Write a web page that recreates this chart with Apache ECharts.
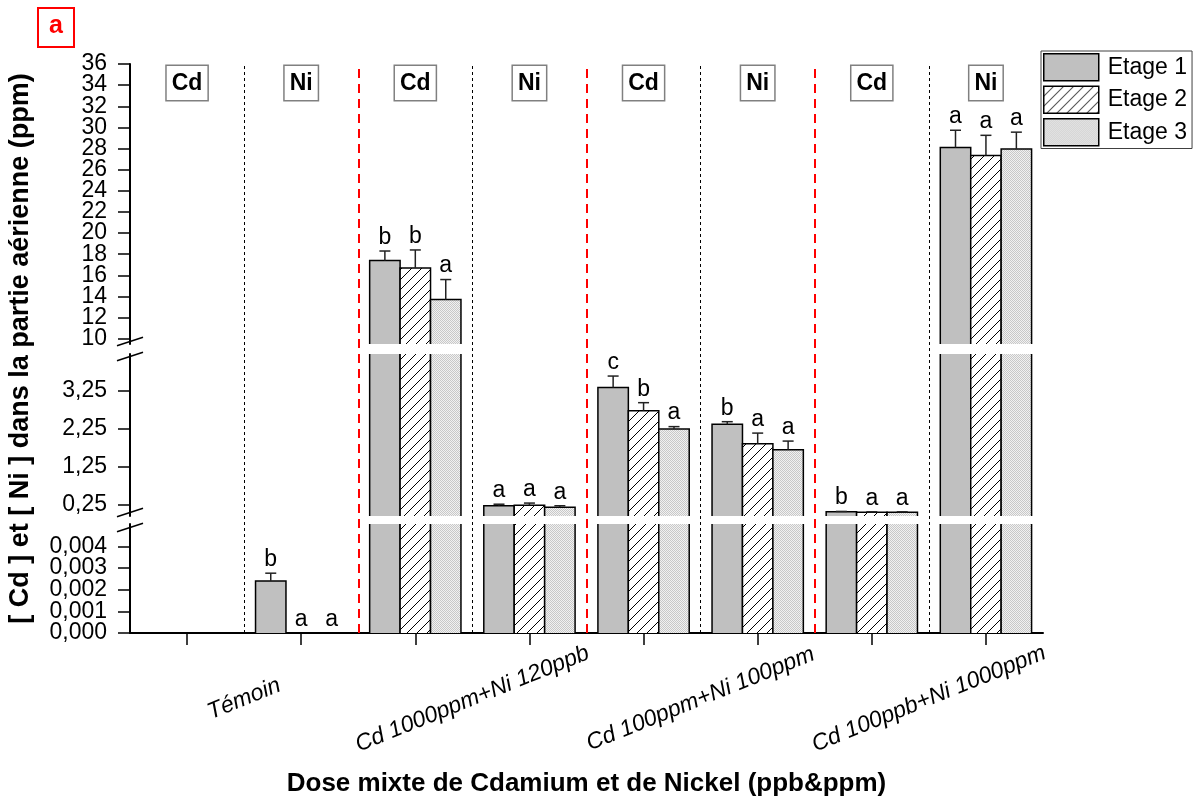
<!DOCTYPE html>
<html><head><meta charset="utf-8">
<script src="https://cdn.jsdelivr.net/npm/echarts@6/dist/echarts.min.js"></script>
<style>html,body{margin:0;padding:0;background:#fff}#c{width:1198px;height:803px}</style>
</head><body><div id="c"></div>
<script>
// ---------- data ----------
const slots = ['Cd','Ni','Cd','Ni','Cd','Ni','Cd','Ni'];
const groups = ['Témoin','Cd 1000ppm+Ni 120ppb','Cd 100ppm+Ni 100ppm','Cd 100ppb+Ni 1000ppm'];
const seriesNames = ['Etage 1','Etage 2','Etage 3'];
const etage1 = [null, 0.0024, 17.4, 0.23, 3.34, 2.37, 0.07, 28.1];
const etage2 = [null, 0,      16.7, 0.24, 2.73, 1.86, 0.06, 27.35];
const etage3 = [null, 0,      13.7, 0.19, 2.25, 1.70, 0.06, 27.95];
const err1 = [null, 0.00036, 0.9, 0.04, 0.30, 0.07, 0.01, 1.63];
const err2 = [null, 0,       1.7, 0.06, 0.21, 0.28, 0.01, 1.90];
const err3 = [null, 0,       1.9, 0.04, 0.06, 0.23, 0.01, 1.60];
const letters1 = ['', 'b','b','a','c','b','b','a'];
const letters2 = ['', 'a','b','a','b','a','a','a'];
const letters3 = ['', 'a','a','a','a','a','a','a'];
const ticksBottom = [0, 0.001, 0.002, 0.003, 0.004];
const ticksMiddle = [0.25, 1.25, 2.25, 3.25];
const ticksTop = [10,12,14,16,18,20,22,24,26,28,30,32,34,36];
const yTitle = '[ Cd ] et [ Ni ] dans la partie aérienne (ppm)';
const xTitle = 'Dose mixte de Cdamium et de Nickel (ppb&ppm)';

const VALUES = [etage1, etage2, etage3];
const ERRS = [err1, err2, err3];
const LETTERS = [letters1, letters2, letters3];

// axis segments of the broken y axis
const SEG = [{min:0, max:0.00503}, {min:-0.04, max:4.22}, {min:9.5, max:36}];
const FONT = '"Liberation Sans", Arial, sans-serif';

// ---------- patterns ----------
function solid(){ return '#c0c0c0'; }
function hatch(){
  const c=document.createElement('canvas'); c.width=10; c.height=10;
  const g=c.getContext('2d'); g.fillStyle='#fff'; g.fillRect(0,0,10,10);
  g.strokeStyle='#000'; g.lineWidth=1;
  g.beginPath(); g.moveTo(0,10); g.lineTo(10,0); g.moveTo(-5,5); g.lineTo(5,-5); g.moveTo(5,15); g.lineTo(15,5); g.stroke();
  return {image:c, repeat:'repeat'};
}
function stipple(){
  const c=document.createElement('canvas'); c.width=2; c.height=2;
  const g=c.getContext('2d'); g.fillStyle='#f1f1f1'; g.fillRect(0,0,2,2);
  g.fillStyle='#c8c8c8'; g.fillRect(0,0,1,1); g.fillRect(1,1,1,1);
  return {image:c, repeat:'repeat'};
}
const PAT = [solid(), hatch(), stipple()];

// ---------- renderer ----------
function renderer(seg, k){
  return function(params, api){
    const xi = api.value(0), v = api.value(1), e = api.value(2);
    const cs = params.coordSys;
    const top = cs.y, bot = cs.y + cs.height;
    const band = api.size([1,0])[0];
    const bw = band*0.8/3;
    const cx = api.coord([xi, SEG[seg].min])[0];
    const x0 = cx - band*0.4 + k*bw;
    const lowerMax = seg>0 ? SEG[seg-1].max : -Infinity;
    const ch = [];
    const ok = isFinite(v);
    if (ok && v>0 && v>lowerMax){
      const yv = api.coord([xi, v])[1];
      const clipped = yv < top;
      const yt = Math.max(yv, top);
      ch.push({type:'rect', shape:{x:x0, y:yt, width:bw, height:bot-yt}, style:{fill:PAT[k]}});
      if (clipped){
        ch.push({type:'line', shape:{x1:x0,y1:yt,x2:x0,y2:bot}, style:{stroke:'#000', lineWidth:1.5}});
        ch.push({type:'line', shape:{x1:x0+bw,y1:yt,x2:x0+bw,y2:bot}, style:{stroke:'#000', lineWidth:1.5}});
      } else {
        ch.push({type:'polyline', shape:{points:[[x0,bot],[x0,yt],[x0+bw,yt],[x0+bw,bot]]}, style:{stroke:'#000', lineWidth:1.5, fill:null}});
      }
    }
    const ee = isFinite(e) ? e : 0;
    const tv = (ok ? v : 0) + ee;
    if (ok && tv>lowerMax && tv<=SEG[seg].max){
      const xc = x0 + bw/2;
      const yv = api.coord([xi, v])[1], yc = api.coord([xi, tv])[1];
      if (ee>0){
        ch.push({type:'line', shape:{x1:xc,y1:yv,x2:xc,y2:yc}, style:{stroke:'#222', lineWidth:1.5}});
        ch.push({type:'line', shape:{x1:xc-5.5,y1:yc,x2:xc+5.5,y2:yc}, style:{stroke:'#222', lineWidth:1.5}});
      }
      const L = LETTERS[k][xi];
      if (L) ch.push({type:'text', x:xc, y:yc-2, style:{text:L, fill:'#000', fontSize:23, fontFamily:FONT, align:'center', verticalAlign:'bottom'}});
    }
    return {type:'group', children:ch};
  };
}

// ---------- layout ----------
const L0 = 130, W0 = 913;
const grids = [
  {left:L0, width:W0, top:524, height:109},
  {left:L0, width:W0, top:354, height:162},
  {left:L0, width:W0, top:64,  height:280},
  {left:L0, width:W0, top:64,  height:569}
].map(g => Object.assign(g, {outerBoundsMode:'none', containLabel:false}));

// labels are split over two overlapping axes so that no automatic overlap hiding occurs
function yAx(gi, seg, ticks, fmt, showLine){
  return {
    type:'value', gridIndex:gi, min:SEG[seg].min, max:SEG[seg].max, position:'left', offset:0,
    axisLine:{show:showLine, onZero:false, lineStyle:{color:'#000', width:2}},
    axisTick:{show:true, length:12, customValues:ticks, lineStyle:{color:'#000', width:1.5}},
    axisLabel:{show:true, customValues:ticks, margin:23, formatter:fmt, color:'#000', fontSize:23, fontFamily:FONT,
      showMinLabel:true, showMaxLabel:true, hideOverlap:false},
    splitLine:{show:false}
  };
}
const even = a => a.filter((_,i)=>i%2===0);
const odd  = a => a.filter((_,i)=>i%2===1);
const fmtB = v => v.toFixed(3).replace('.', ',');
const fmtM = v => v.toFixed(2).replace('.', ',');
const fmtT = v => String(v);

const series = [];
for (let s=0; s<3; s++){
  for (let k=0; k<3; k++){
    series.push({
      type:'custom', name:seriesNames[k], xAxisIndex:s, yAxisIndex:s,
      renderItem: renderer(s,k),
      itemStyle:{color: k===0 ? '#c0c0c0' : PAT[k], borderColor:'#000', borderWidth:1.5},
      encode:{x:0, y:1},
      data: slots.map((_,i)=>[i, VALUES[k][i]==null?'-':VALUES[k][i], ERRS[k][i]==null?0:ERRS[k][i]]),
      z:3
    });
  }
}
// separators between slots (dotted) and between groups (red dashed)
series.push({type:'line', xAxisIndex:3, yAxisIndex:3, data:[], silent:true, z:1,
  markLine:{silent:true, symbol:'none', label:{show:false}, animation:false,
    lineStyle:{color:'#000', type:[3,3], width:1},
    data:[1,3,5,7].map(v=>({xAxis:v}))}});
series.push({type:'line', xAxisIndex:3, yAxisIndex:3, data:[], silent:true, z:1,
  markLine:{silent:true, symbol:'none', label:{show:false}, animation:false,
    lineStyle:{color:'#ff0000', type:[9,6], width:2},
    data:[2,4,6].map(v=>({xAxis:v}))}});

// break marks on the y axis
function brk(yc){
  return [-7.5, 7.5].map(d => ({type:'line', z:100,
    shape:{x1:L0-13, y1:yc+d+4.3, x2:L0+13, y2:yc+d-4.3},
    style:{stroke:'#000', lineWidth:1.5}}));
}

const option = {
  animation:false,
  backgroundColor:'#fff',
  title:{text:'a', left:38, top:8, padding:[6,11,8,11], borderColor:'#ff0000', borderWidth:2,
    textStyle:{color:'#ff0000', fontWeight:'bold', fontSize:25, fontFamily:FONT}},
  legend:{orient:'vertical', left:1041, top:51, padding:[2,5,2,2], itemWidth:55, itemHeight:27, itemGap:4,
    borderColor:'#404040', borderWidth:1, backgroundColor:'#fff', selectedMode:false,
    textStyle:{fontSize:23, color:'#000', fontFamily:FONT, padding:[0,0,0,4]},
    data: seriesNames.map((n,k)=>({name:n, icon:'rect', itemStyle:{color:PAT[k], borderColor:'#000', borderWidth:1.5}}))},
  grid: grids,
  xAxis:[
    {type:'category', gridIndex:0, data:slots, position:'bottom',
      axisLine:{show:true, onZero:false, lineStyle:{color:'#000', width:2}},
      axisTick:{show:true, alignWithLabel:true, length:12, lineStyle:{color:'#000', width:1.5}},
      axisLabel:{show:false}, splitLine:{show:false},
      name:xTitle, nameLocation:'middle', nameGap:138,
      nameTextStyle:{fontWeight:'bold', fontSize:26, color:'#000', fontFamily:FONT}},
    {type:'category', gridIndex:1, data:slots, show:false},
    {type:'category', gridIndex:2, data:slots, position:'top',
      axisLine:{show:false}, axisTick:{show:false}, splitLine:{show:false},
      axisLabel:{show:true, inside:true, margin:2, interval:0, fontWeight:'bold', fontSize:23, color:'#000', fontFamily:FONT,
        backgroundColor:'#fff', borderColor:'#808080', borderWidth:1.5, padding:[6,5,5,5]}},
    {type:'value', gridIndex:3, min:0, max:8, show:false},
    {type:'category', gridIndex:0, data:groups, position:'bottom',
      axisLine:{show:false}, axisTick:{show:false}, splitLine:{show:false},
      axisLabel:{show:true, interval:0, rotate:22, align:'center', verticalAlign:'middle', margin:66,
        fontStyle:'italic', fontSize:23, color:'#000', fontFamily:FONT}}
  ],
  yAxis:[
    yAx(0, 0, even(ticksBottom), fmtB, true),
    yAx(1, 1, ticksMiddle, fmtM, true),
    yAx(2, 2, even(ticksTop), fmtT, true),
    {type:'value', gridIndex:3, min:0, max:1, axisLine:{show:false}, axisTick:{show:false}, axisLabel:{show:false}, splitLine:{show:false},
      name:yTitle, nameLocation:'middle', nameGap:96,
      nameTextStyle:{fontWeight:'bold', fontSize:27, color:'#000', fontFamily:FONT}},
    yAx(0, 0, odd(ticksBottom), fmtB, false),
    yAx(2, 2, odd(ticksTop), fmtT, false)
  ],
  graphic: brk(349).concat(brk(520)),
  series: series
};
const chart = echarts.init(document.getElementById('c'), null, {renderer:'canvas'});
chart.setOption(option);
</script></body></html>
